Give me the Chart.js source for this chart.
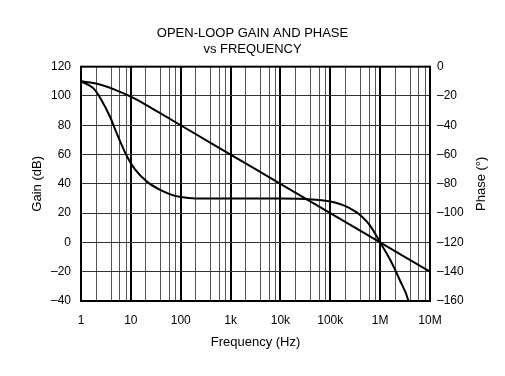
<!DOCTYPE html>
<html>
<head>
<meta charset="utf-8">
<script src="https://cdn.jsdelivr.net/npm/chart.js@4/dist/chart.umd.min.js"></script>
<style>
  html, body { margin: 0; padding: 0; background: #fff; }
  #wrap { width: 505px; height: 376px; position: relative; }
</style>
</head>
<body>
<div id="wrap"><canvas id="bode"></canvas></div>
<script>
// Open-loop gain (dB) vs frequency (Hz)
const gainFreq = [1, 2, 3, 5, 10, 20, 50, 100, 1e3, 1e4, 1e5, 1e6, 1e7];
const gainDb   = [110, 108.5, 106.8, 104, 99.5, 94, 86, 80, 60, 40, 20, 0, -20];

// Open-loop phase (deg) vs frequency (Hz)
const phaseFreq = [1, 1.4, 1.8, 2.5, 3.8, 5, 8.3, 12, 21, 38, 60, 100, 200, 1e4, 3e4, 6e4, 1e5, 1.4e5, 1.8e5, 2.5e5, 3.4e5, 4.5e5, 6.3e5, 1e6, 1.6e6, 2.5e6, 3.7e6, 4.2e6];
const phaseDeg  = [-10, -12.5, -15, -22, -34, -44, -61, -70, -78.5, -84, -87, -89, -90, -90, -90.3, -91, -92, -93.2, -94.5, -96.8, -99.5, -103, -108.5, -120, -132, -146, -160, -170];

// Axis ticks
const decadeValues = [1, 10, 100, 1e3, 1e4, 1e5, 1e6, 1e7];
const decadeLabels = ['1', '10', '100', '1k', '10k', '100k', '1M', '10M'];
const minorSteps = [2, 4, 6, 8];
const gainTicks  = [120, 100, 80, 60, 40, 20, 0, -20, -40];
const phaseTicks = [0, -20, -40, -60, -80, -100, -120, -140, -160];

const FONT = 'Liberation Sans, Arial, sans-serif';
const minus = v => (v < 0 ? '\u2013' + Math.abs(v) : String(v));

function toPoints(xs, ys) {
    return xs.map((x, i) => ({ x: x, y: ys[i] }));
}

// decade lines plus the 2,4,6,8 lines of each decade
function logGridTicks() {
    const out = [];
    for (let d = 0; d < decadeValues.length - 1; d++) {
        out.push({ value: decadeValues[d] });
        minorSteps.forEach(m => out.push({ value: decadeValues[d] * m }));
    }
    out.push({ value: decadeValues[decadeValues.length - 1] });
    return out;
}

const framePlugin = {
    id: 'frame',
    afterDraw(chart) {
        const { ctx, chartArea: a } = chart;
        ctx.save();
        ctx.strokeStyle = '#000';
        ctx.lineWidth = 2;
        ctx.strokeRect(a.left, a.top, a.right - a.left, a.bottom - a.top);

        ctx.fillStyle = '#000';
        ctx.font = '13px ' + FONT;
        ctx.textAlign = 'center';
        ctx.textBaseline = 'middle';
        const midY = (a.top + a.bottom) / 2;
        // left title
        ctx.save();
        ctx.translate(37, midY);
        ctx.rotate(-Math.PI / 2);
        ctx.fillText('Gain (dB)', 0, 0);
        ctx.restore();
        // right title
        ctx.save();
        ctx.translate(481, midY);
        ctx.rotate(-Math.PI / 2);
        ctx.fillText('Phase (\u00B0)', 0, 0);
        ctx.restore();
        // x title
        ctx.fillText('Frequency (Hz)', (a.left + a.right) / 2, 342);
        ctx.restore();
    }
};

new Chart(document.getElementById('bode'), {
    type: 'line',
    data: {
        datasets: [{
            label: 'Gain',
            data: toPoints(gainFreq, gainDb),
            yAxisID: 'y',
            borderColor: '#000',
            borderWidth: 2,
            pointRadius: 0,
            cubicInterpolationMode: 'monotone',
            fill: false
        }, {
            label: 'Phase',
            data: toPoints(phaseFreq, phaseDeg),
            yAxisID: 'y2',
            borderColor: '#000',
            borderWidth: 2,
            pointRadius: 0,
            cubicInterpolationMode: 'monotone',
            fill: false
        }]
    },
    options: {
        responsive: true,
        maintainAspectRatio: false,
        animation: false,
        events: [],
        layout: { padding: 0 },
        plugins: {
            legend: { display: false },
            tooltip: { enabled: false },
            title: {
                display: true,
                text: ['OPEN-LOOP GAIN AND PHASE', 'vs FREQUENCY'],
                color: '#000',
                font: { family: FONT, size: 13, weight: 'normal', lineHeight: 1.18 },
                padding: { top: 26, bottom: 10 }
            }
        },
        scales: {
            x: {
                type: 'logarithmic',
                min: decadeValues[0],
                max: decadeValues[decadeValues.length - 1],
                afterBuildTicks: s => { s.ticks = logGridTicks(); },
                afterFit: s => { s.height = 75; },
                border: { display: false },
                grid: {
                    drawTicks: false,
                    color: ctx => decadeValues.includes(ctx.tick && ctx.tick.value) ? '#000' : '#555',
                    lineWidth: ctx => decadeValues.includes(ctx.tick && ctx.tick.value) ? 2 : 1
                },
                ticks: {
                    autoSkip: false,
                    maxRotation: 0,
                    padding: 12,
                    color: '#000',
                    font: { family: FONT, size: 12 },
                    callback: v => {
                        const i = decadeValues.indexOf(v);
                        return i >= 0 ? decadeLabels[i] : '';
                    }
                }
            },
            y: {
                position: 'left',
                min: gainTicks[gainTicks.length - 1],
                max: gainTicks[0],
                afterBuildTicks: s => { s.ticks = gainTicks.map(v => ({ value: v })); },
                afterFit: s => { s.width = 81; },
                border: { display: false },
                grid: { drawTicks: false, color: '#333', lineWidth: 1 },
                ticks: {
                    padding: 10,
                    color: '#000',
                    font: { family: FONT, size: 12 },
                    callback: v => minus(v)
                }
            },
            y2: {
                position: 'right',
                min: phaseTicks[phaseTicks.length - 1],
                max: phaseTicks[0],
                afterBuildTicks: s => { s.ticks = phaseTicks.map(v => ({ value: v })); },
                afterFit: s => { s.width = 75; },
                border: { display: false },
                grid: { display: false, drawTicks: false },
                ticks: {
                    padding: 7,
                    color: '#000',
                    font: { family: FONT, size: 12 },
                    callback: v => minus(v)
                }
            }
        }
    },
    plugins: [framePlugin]
});
</script>
</body>
</html>
